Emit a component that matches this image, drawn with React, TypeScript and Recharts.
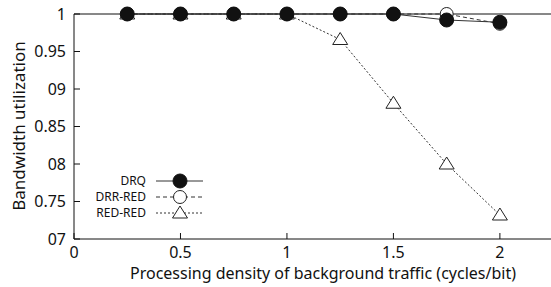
import React from 'react';
import { LineChart, Line, XAxis, YAxis, ReferenceLine } from 'recharts';

const densities = [0.25, 0.5, 0.75, 1, 1.25, 1.5, 1.75, 2];
const drq = [1, 1, 1, 1, 1, 1, 0.992, 0.989];
const drrRed = [1, 1, 1, 1, 1, 1, 1, 0.987];
const redRed = [1, 1, 1, 1, 0.966, 0.881, 0.8, 0.732];

const xTicks = [0, 0.5, 1, 1.5, 2];
const xTickLabels = ['0', '0.5', '1', '1.5', '2'];
const yTicks = [0.7, 0.75, 0.8, 0.85, 0.9, 0.95, 1];
const yTickLabels = ['07', '0.75', '08', '0.85', '09', '0.95', '1'];

const seriesNames = ['DRQ', 'DRR-RED', 'RED-RED'];
const xTitle = 'Processing density of background traffic (cycles/bit)';
const yTitle = 'Bandwidth utilization';

const data = densities.map((d, i) => ({
  x: d,
  drq: drq[i],
  drrRed: drrRed[i],
  redRed: redRed[i],
}));

const FONT = '"Noto Sans", sans-serif';

const FilledDot = (props: any) => {
  const { cx, cy } = props;
  return <circle cx={cx} cy={cy} r={7} fill="#111" stroke="#111" />;
};

const OpenDot = (props: any) => {
  const { cx, cy } = props;
  return <circle cx={cx} cy={cy} r={6.5} fill="#fff" stroke="#222" strokeWidth={1} />;
};

const TriDot = (props: any) => {
  const { cx, cy } = props;
  const pts = `${cx},${cy - 7} ${cx - 7.5},${cy + 5} ${cx + 7.5},${cy + 5}`;
  return <polygon points={pts} fill="#fff" stroke="#222" strokeWidth={1} />;
};

const XTick = (props: any) => {
  const { x, y, payload } = props;
  const i = xTicks.indexOf(payload.value);
  return (
    <text x={x} y={y} dy="0.71em" textAnchor="middle" fontSize={16} fill="#111" fontFamily={FONT}>
      {i >= 0 ? xTickLabels[i] : payload.value}
    </text>
  );
};

const YTick = (props: any) => {
  const { x, y, payload } = props;
  const i = yTicks.findIndex((t) => Math.abs(t - payload.value) < 1e-6);
  return (
    <text x={x} y={y} dy="0.35em" textAnchor="end" fontSize={16} fill="#111" fontFamily={FONT}>
      {i >= 0 ? yTickLabels[i] : payload.value}
    </text>
  );
};

const LegendBox = () => {
  const rows = [
    { dash: undefined, dot: <FilledDot cx={80} cy={8} /> },
    { dash: '4 3', dot: <OpenDot cx={80} cy={24} /> },
    { dash: '2 2', dot: <TriDot cx={80} cy={40} /> },
  ];
  return (
    <svg width={140} height={50} style={{ position: 'absolute', left: 68, top: 173 }}>
      {rows.map((r, i) => (
        <g key={seriesNames[i]}>
          <text x={78} y={8 + i * 16} dy="0.35em" textAnchor="end" fontSize={12} fill="#111" fontFamily={FONT}>
            {seriesNames[i]}
          </text>
          <line x1={88} x2={135} y1={8 + i * 16} y2={8 + i * 16} stroke="#333" strokeDasharray={r.dash} />
          <g transform="translate(32,0)">{r.dot}</g>
        </g>
      ))}
    </svg>
  );
};

export default function App() {
  return (
    <div style={{ position: 'absolute', left: 0, top: 0, width: 551, height: 287, background: '#fff' }}>
      <LineChart width={551} height={287} data={data} margin={{ top: 14, right: 0, bottom: 0, left: 0 }}>
        <XAxis
          dataKey="x"
          type="number"
          domain={[0, 2.24]}
          ticks={xTicks}
          tickSize={-6}
          tickMargin={14}
          tick={<XTick />}
          height={48}
          stroke="#111"
          allowDataOverflow
        />
        <YAxis
          yAxisId="l"
          type="number"
          domain={[0.7, 1]}
          ticks={yTicks}
          tickSize={-6}
          tickMargin={14}
          tick={<YTick />}
          width={74}
          stroke="#111"
        />
        <YAxis
          yAxisId="r"
          orientation="right"
          type="number"
          domain={[0.7, 1]}
          ticks={yTicks}
          tickSize={-6}
          tick={() => <g />}
          width={0}
          stroke="#111"
        />
        <ReferenceLine yAxisId="l" y={1} stroke="#111" />
        <Line
          yAxisId="l"
          dataKey="redRed"
          stroke="#333"
          strokeDasharray="2 2"
          dot={<TriDot />}
          isAnimationActive={false}
        />
        <Line
          yAxisId="l"
          dataKey="drrRed"
          stroke="#333"
          strokeDasharray="4 3"
          dot={<OpenDot />}
          isAnimationActive={false}
        />
        <Line
          yAxisId="l"
          dataKey="drq"
          stroke="#333"
          dot={<FilledDot />}
          isAnimationActive={false}
        />
        <text x={323} y={273} dy="0.35em" textAnchor="middle" fontSize={16} fill="#111" fontFamily={FONT}>
          {xTitle}
        </text>
        <text
          x={19}
          y={126}
          dy="0.35em"
          textAnchor="middle"
          fontSize={17}
          fill="#111"
          fontFamily={FONT}
          transform="rotate(-90 19 126)"
        >
          {yTitle}
        </text>
      </LineChart>
      <LegendBox />
    </div>
  );
}
